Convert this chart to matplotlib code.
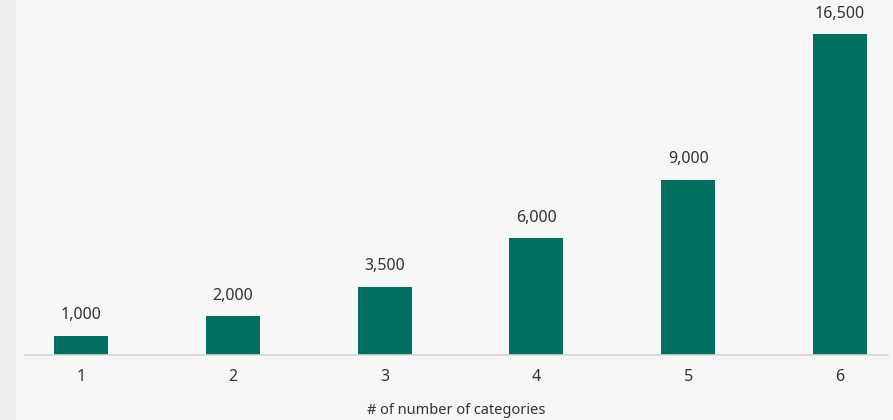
import matplotlib.pyplot as plt
from matplotlib.patches import Rectangle

# data
categories = [1, 2, 3, 4, 5, 6]
values = [1000, 2000, 3500, 6000, 9000, 16500]

BAR_COLOR = "#006f60"
BG = "#f6f6f6"
TEXT = "#333333"

plt.rcParams['font.family'] = ['Noto Sans', 'DejaVu Sans']

fig = plt.figure(figsize=(8.93, 4.2), dpi=100, facecolor=BG)
# slightly darker strip on the left edge
fig.patches.append(Rectangle((0, 0), 16 / 893, 1, transform=fig.transFigure,
                             facecolor="#efefef", edgecolor="none", zorder=0))

ax = fig.add_axes([25 / 893, 65 / 420, 863 / 893, 355 / 420])
ax.set_facecolor(BG)

bars = ax.bar(categories, values, width=0.356, color=BAR_COLOR)

for x, v in zip(categories, values):
    ax.annotate(f"{v:,}", (x, v), xytext=(0, 9), textcoords="offset points",
                ha="center", va="bottom", fontsize=11.5, color=TEXT)

ax.set_xlim(0.631, 6.316)
ax.set_ylim(0, 18248)
ax.set_xticks(categories)
ax.set_xticklabels([str(c) for c in categories], fontsize=11.5, color=TEXT)
ax.set_yticks([])
ax.tick_params(axis="x", length=0, pad=10)

for s in ["top", "right", "left"]:
    ax.spines[s].set_visible(False)
ax.spines["bottom"].set_color("#d6d6d6")
ax.spines["bottom"].set_linewidth(1.2)

ax.set_xlabel("# of number of categories", fontsize=10.5, color=TEXT, labelpad=13)

fig.savefig("out.png", dpi=100, facecolor=BG)
